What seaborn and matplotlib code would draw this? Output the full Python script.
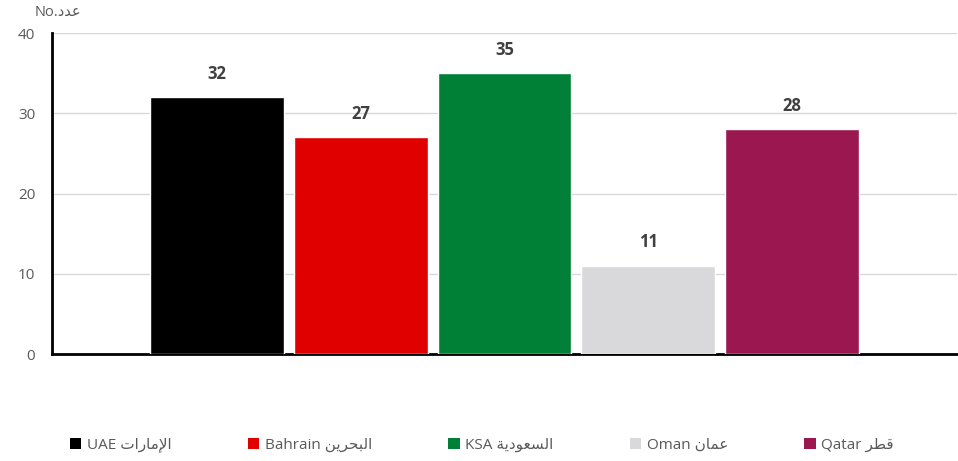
import matplotlib
matplotlib.use("Agg")
import matplotlib.pyplot as plt
import seaborn as sns
import pandas as pd
from matplotlib.patches import Patch

# Arabic words written in presentation forms (visual order) since matplotlib has no shaping
AR_UAE = "\uFE95\uFE8D\uFEAD\uFE8E\uFEE3\uFEF9\uFE8D"
AR_BAHRAIN = "\uFEE6\uFEF3\uFEAE\uFEA4\uFE92\uFEDF\uFE8D"
AR_KSA = "\uFE94\uFEF3\uFEA9\uFEEE\uFECC\uFEB4\uFEDF\uFE8D"
AR_OMAN = "\uFEE5\uFE8E\uFEE4\uFECB"
AR_QATAR = "\uFEAE\uFEC4\uFED7"
AR_COUNT = "\uFEA9\uFEAA\uFECB"

countries = ["UAE", "Bahrain", "KSA", "Oman", "Qatar"]
arabic_names = [AR_UAE, AR_BAHRAIN, AR_KSA, AR_OMAN, AR_QATAR]
values = [32, 27, 35, 11, 28]
colors = ["#000000", "#e00000", "#008037", "#d9d9db", "#9a1750"]
yticks = [0, 10, 20, 30, 40]

sns.set_theme(style="white")
plt.rcParams["font.family"] = ["Open Sans", "DejaVu Sans"]

df = pd.DataFrame({"country": countries, "value": values})

fig = plt.figure(figsize=(9.58, 4.61), dpi=100)
ax = fig.add_axes([52 / 958, 107 / 461, 905 / 958, 321 / 461])

sns.barplot(data=df, x="country", y="value", hue="country", palette=colors,
            width=0.93, saturation=1, legend=False, ax=ax, zorder=3)

ax.set_xlim(-1.145, 5.145)
ax.set_ylim(0, 40)
ax.set_yticks(yticks)
ax.set_xticks([])
ax.set_xlabel("")
ax.set_ylabel("")
ax.tick_params(axis="y", labelsize=11, labelcolor="#595959", length=0, pad=12)

ax.yaxis.grid(True, color="#d9d9d9", linewidth=1, zorder=0)
ax.set_axisbelow(True)
for side in ["top", "right"]:
    ax.spines[side].set_visible(False)
ax.spines["left"].set_color("black")
ax.spines["left"].set_linewidth(2)
ax.spines["bottom"].set_color("black")
ax.spines["bottom"].set_linewidth(2)

for i, v in enumerate(values):
    ax.text(i, v + 1.8, str(v), ha="center", va="bottom", fontsize=12,
            fontweight="bold", color="#404040")

fig.text(35 / 958, 1 - 13 / 461, "No." + AR_COUNT, ha="left", va="center",
         fontsize=10.5, color="#595959")

handles = [Patch(facecolor=c, edgecolor="none") for c in colors]
labels = [f"{c} {a}" for c, a in zip(countries, arabic_names)]
fig.legend(handles, labels, loc="center", bbox_to_anchor=(0.503, 1 - 445 / 461),
           ncol=5, frameon=False, fontsize=11, labelcolor="#595959",
           handlelength=0.75, handleheight=0.75, handletextpad=0.35,
           columnspacing=5.0)

fig.savefig("out.png", dpi=100)
